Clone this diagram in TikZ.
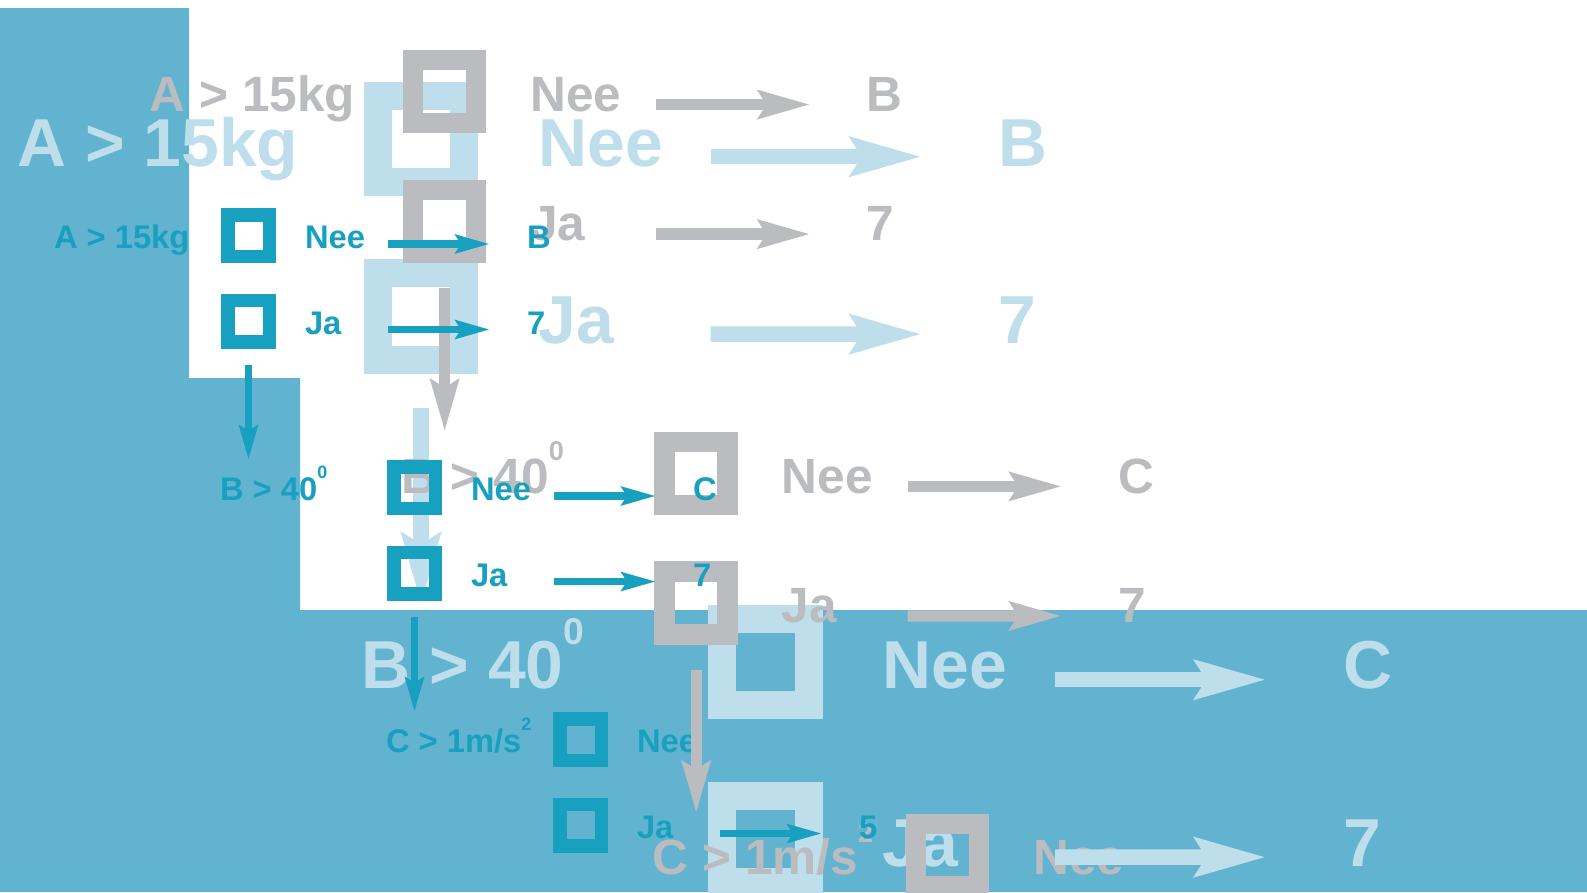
\documentclass[tikz,border=0pt]{standalone}
\usepackage{fontspec}
\setmainfont{Liberation Sans}
\usetikzlibrary{arrows.meta}
\definecolor{bgblue}{RGB}{98,179,207}
\definecolor{darkb}{RGB}{24,160,192}
\definecolor{grayc}{RGB}{187,188,192}
\definecolor{lightb}{RGB}{189,222,234}
\pgfdeclarelayer{grtext}
\pgfdeclarelayer{upper}
\pgfdeclarelayer{dktext}
\pgfdeclarelayer{grarrow}
\pgfdeclarelayer{toplayer}
\pgfsetlayers{main,grtext,upper,dktext,grarrow,toplayer}
\newcommand\supr[1]{\raisebox{0.66em}{\scalebox{0.55}{#1}}}
% level k: offset (166k, 252k); row r: offset 85.5r
\newcommand\lvlLabel[3]{\node[#1 txt] (#1-lab#2) at (-167+166*#2, 40.5+252*#2) {#3};}
\newcommand\lvlSq[3]{\node[#1 sq] (#1-sq#2-#3) at (27.5+166*#2, 27.5+85.5*#3+252*#2) {};}
\newcommand\lvlAns[4]{\node[#1 txt] (#1-ans#2-#3) at (84+166*#2, 40.5+85.5*#3+252*#2) {#4};}
\newcommand\lvlTgt[4]{\node[#1 txt] (#1-tg#2-#3) at (306+166*#2, 40.5+85.5*#3+252*#2) {#4};}
\newcommand\lvlArr[3]{\coordinate (#1-from#2-#3) at (167+166*#2, 36+85.5*#3+252*#2);
  \draw[#1 harr] (#1-from#2-#3) -- (#1-tg#2-#3.west);}
\newcommand\lvlDown[2]{\coordinate (#1-dn#2) at (27.5+166*#2, 252+252*#2);
  \draw[#1 varr] (#1-sq#2-1.south) -- (#1-dn#2);}
\tikzset{
  txtbase/.style={font=\fontsize{32.7}{32.7}\selectfont\bfseries, inner sep=0pt, outer sep=0pt,
    anchor=base west, text height=9pt, text depth=0pt, transform shape},
  sqbase/.style={draw, rectangle, minimum size=41.5pt, inner sep=0pt, outer sep=0pt, transform shape},
  % light blue, large
  lb frame/.style={shift={(364,82)}, scale=2.075},
  lb txt/.style={txtbase, text=lightb},
  lb sq/.style={sqbase, draw=lightb, line width=28pt},
  lb harr/.style={draw=lightb, line width=15.56pt, -{Stealth[length=70.6pt,width=37.4pt,inset=10.4pt]}, shorten >=76.8pt},
  lb varr/.style={draw=lightb, line width=15.56pt, -{Stealth[length=70.6pt,width=37.4pt,inset=10.4pt]}, shorten <=48.2pt},
  % grey, medium
  gr frame/.style={shift={(403,50)}, scale=1.515},
  gr txt/.style={txtbase, text=grayc},
  gr sq/.style={sqbase, draw=grayc, line width=20.45pt},
  gr harr/.style={draw=grayc, line width=11.36pt, -{Stealth[length=51.5pt,width=27.3pt,inset=7.6pt]}, shorten >=56.1pt},
  gr varr/.style={draw=grayc, line width=11.36pt, -{Stealth[length=51.5pt,width=27.3pt,inset=7.6pt]}, shorten <=35.2pt},
  % dark blue, small
  sm frame/.style={shift={(221,208)}, scale=1},
  sm txt/.style={txtbase, text=darkb},
  sm sq/.style={sqbase, draw=darkb, line width=13.5pt},
  sm harr/.style={draw=darkb, line width=7.5pt, -{Stealth[length=34pt,width=18pt,inset=5pt]}, shorten >=37pt},
  sm varr/.style={draw=darkb, line width=7.5pt, -{Stealth[length=34pt,width=18pt,inset=5pt]}, shorten <=23.25pt},
}
\begin{document}
\begin{tikzpicture}[x=1pt,y=-1pt]
\useasboundingbox (0,0) rectangle (1587,892);
\fill[white] (0,0) rectangle (1587,892);
\fill[bgblue] (0,8) -- (189,8) -- (189,378) -- (300,378) -- (300,610) -- (1587,610) -- (1587,892) -- (0,892) -- cycle;
% ---------- light blue diagram ----------
\begin{scope}[lb frame]
  \lvlLabel{lb}{0}{A > 15kg}
  \lvlSq{lb}{0}{0} \lvlSq{lb}{0}{1}
  \lvlAns{lb}{0}{0}{Nee} \lvlAns{lb}{0}{1}{Ja}
  \lvlTgt{lb}{0}{0}{B} \lvlTgt{lb}{0}{1}{7}
  \lvlLabel{lb}{1}{B > 40\supr{0}}
  \lvlSq{lb}{1}{0} \lvlSq{lb}{1}{1}
  \lvlAns{lb}{1}{0}{Nee} \lvlAns{lb}{1}{1}{Ja}
  \lvlTgt{lb}{1}{0}{C} \lvlTgt{lb}{1}{1}{7}
  \lvlDown{lb}{0}
\end{scope}
\begin{pgfonlayer}{upper}
\begin{scope}[lb frame]
  \lvlArr{lb}{0}{0} \lvlArr{lb}{0}{1}
  \lvlArr{lb}{1}{0} \lvlArr{lb}{1}{1}
\end{scope}
\end{pgfonlayer}
% ---------- grey diagram ----------
\begin{pgfonlayer}{grtext}
\begin{scope}[gr frame]
  \lvlLabel{gr}{0}{A > 15kg}
  \lvlAns{gr}{0}{0}{Nee} \lvlAns{gr}{0}{1}{Ja}
  \lvlTgt{gr}{0}{0}{B} \lvlTgt{gr}{0}{1}{7}
  \lvlLabel{gr}{1}{B > 40\supr{0}}
  \lvlAns{gr}{1}{0}{Nee} \lvlAns{gr}{1}{1}{Ja}
  \lvlTgt{gr}{1}{0}{C} \lvlTgt{gr}{1}{1}{7}
  \lvlLabel{gr}{2}{C > 1m/s\supr{2}}
  \lvlAns{gr}{2}{0}{Nee}
\end{scope}
\end{pgfonlayer}
\begin{pgfonlayer}{upper}
\begin{scope}[gr frame]
  \lvlSq{gr}{0}{0} \lvlSq{gr}{0}{1}
  \lvlSq{gr}{1}{0} \lvlSq{gr}{1}{1}
  \lvlSq{gr}{2}{0}
\end{scope}
\end{pgfonlayer}
\begin{pgfonlayer}{grarrow}
\begin{scope}[gr frame]
  \lvlArr{gr}{0}{0} \lvlArr{gr}{0}{1}
  \lvlArr{gr}{1}{0} \lvlArr{gr}{1}{1}
  \lvlDown{gr}{0} \lvlDown{gr}{1}
\end{scope}
\end{pgfonlayer}
% ---------- dark blue diagram ----------
\begin{pgfonlayer}{dktext}
\begin{scope}[sm frame]
  \lvlLabel{sm}{0}{A > 15kg}
  \lvlAns{sm}{0}{0}{Nee} \lvlAns{sm}{0}{1}{Ja}
  \lvlTgt{sm}{0}{0}{B} \lvlTgt{sm}{0}{1}{7}
  \lvlLabel{sm}{1}{B > 40\supr{0}}
  \lvlAns{sm}{1}{0}{Nee} \lvlAns{sm}{1}{1}{Ja}
  \lvlTgt{sm}{1}{0}{C} \lvlTgt{sm}{1}{1}{7}
  \lvlLabel{sm}{2}{C > 1m/s\supr{2}}
  \lvlAns{sm}{2}{0}{Nee} \lvlAns{sm}{2}{1}{Ja}
  \lvlTgt{sm}{2}{1}{5}
\end{scope}
\end{pgfonlayer}
\begin{pgfonlayer}{toplayer}
\begin{scope}[sm frame]
  \lvlSq{sm}{0}{0} \lvlSq{sm}{0}{1}
  \lvlSq{sm}{1}{0} \lvlSq{sm}{1}{1}
  \lvlSq{sm}{2}{0} \lvlSq{sm}{2}{1}
  \lvlArr{sm}{0}{0} \lvlArr{sm}{0}{1}
  \lvlArr{sm}{1}{0} \lvlArr{sm}{1}{1}
  \lvlArr{sm}{2}{1}
  \lvlDown{sm}{0} \lvlDown{sm}{1}
\end{scope}
\end{pgfonlayer}
\end{tikzpicture}
\end{document}
